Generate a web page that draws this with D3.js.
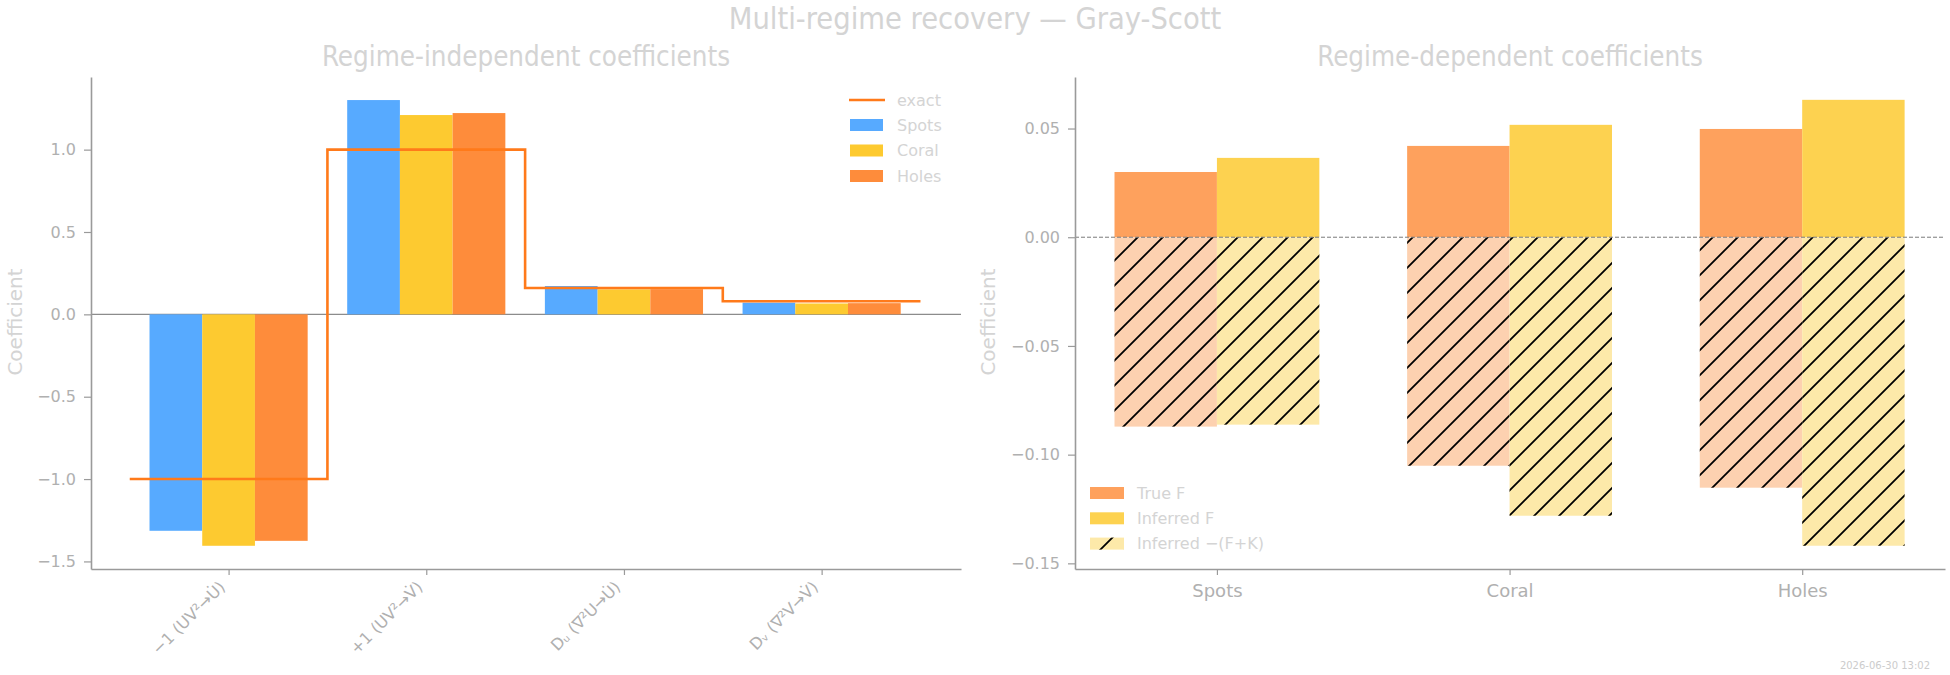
<!DOCTYPE html>
<html>
<head>
<meta charset="utf-8">
<script src="https://cdn.jsdelivr.net/npm/d3@7"></script>
<style>
  body { margin: 0; background: #fff; }
  text { font-family: "DejaVu Sans", sans-serif; }
  .cond { font-family: "DejaVu Sans Condensed", "DejaVu Sans", sans-serif; font-stretch: condensed; }
</style>
</head>
<body>
<svg id="chart" width="1950" height="675"></svg>
<script>
// coefficient terms (left panel)
var terms = ["\u22121 (UV\u00b2\u2192U\u0307)", "+1 (UV\u00b2\u2192V\u0307)", "D\u1d64 (\u2207\u00b2U\u2192U\u0307)", "D\u1d65 (\u2207\u00b2V\u2192V\u0307)"];
var exactCoef = [-1, 1, 0.16, 0.08];
var spotsCoef = [-1.314, 1.301, 0.172, 0.071];
var coralCoef = [-1.405, 1.210, 0.152, 0.066];
var holesCoef = [-1.375, 1.222, 0.153, 0.068];

// regime-dependent (right panel)
var regimes = ["Spots", "Coral", "Holes"];
var trueF = [0.0300, 0.0420, 0.0498];
var inferredF = [0.0365, 0.0517, 0.0632];
var trueFK = [-0.0871, -0.1051, -0.1152];
var inferredFK = [-0.0862, -0.1281, -0.1419];

var leftTicks = [-1.5, -1.0, -0.5, 0.0, 0.5, 1.0];
var rightTicks = [-0.15, -0.10, -0.05, 0.00, 0.05];

var svg = d3.select("#chart");
var spine = "#9a9a9a", tickTxt = "#b0b0b0", faint = "#d4d4d4";

// hatch pattern, in page coordinates
var defs = svg.append("defs");
defs.append("pattern")
    .attr("id", "hatch")
    .attr("patternUnits", "userSpaceOnUse")
    .attr("width", 25).attr("height", 25)
  .append("path")
    .attr("d", "M0,25 L25,0 M-3,3 L3,-3 M22,28 L28,22")
    .attr("stroke", "#000")
    .attr("stroke-width", 1.8);

function styleAxis(g) {
    g.select(".domain").attr("stroke", spine).attr("stroke-width", 1.6);
    g.selectAll(".tick line").attr("stroke", spine).attr("stroke-width", 1.2);
    g.selectAll(".tick text").attr("fill", tickTxt).attr("font-size", 16);
}

// ---------- left panel ----------
var xL = d3.scaleLinear().domain([-0.696, 3.705]).range([91, 961]);
var yL = d3.scaleLinear().domain([-1.546, 1.441]).range([569, 77]);

var series = [
    { name: "Spots", color: "#57aaff", vals: spotsCoef },
    { name: "Coral", color: "#fdca30", vals: coralCoef },
    { name: "Holes", color: "#fe8c3b", vals: holesCoef }
];
var bw = 0.8 / 3;

// zero line
svg.append("line")
    .attr("x1", xL.range()[0]).attr("x2", xL.range()[1])
    .attr("y1", yL(0)).attr("y2", yL(0))
    .attr("stroke", "#8c8c8c").attr("stroke-width", 1.2);

series.forEach(function (s, j) {
    svg.append("g").selectAll("rect")
        .data(s.vals)
        .enter().append("rect")
        .attr("x", function (d, i) { return xL(i - 0.4 + j * bw); })
        .attr("width", xL(bw) - xL(0))
        .attr("y", function (d) { return yL(Math.max(0, d)); })
        .attr("height", function (d) { return Math.abs(yL(d) - yL(0)); })
        .attr("fill", s.color);
});

// exact step line
var stepPts = exactCoef.map(function (v, i) { return [i - 0.5, v]; });
stepPts.push([exactCoef.length - 0.5, exactCoef[exactCoef.length - 1]]);
svg.append("path")
    .datum(stepPts)
    .attr("fill", "none")
    .attr("stroke", "#ff7a1a")
    .attr("stroke-width", 2.6)
    .attr("d", d3.line()
        .x(function (d) { return xL(d[0]); })
        .y(function (d) { return yL(d[1]); })
        .curve(d3.curveStepAfter));

var axL = svg.append("g").attr("transform", "translate(91,0)")
    .call(d3.axisLeft(yL).tickValues(leftTicks).tickFormat(d3.format(".1f")).tickSizeInner(7).tickSizeOuter(0).tickPadding(8));
styleAxis(axL);

var axLB = svg.append("g").attr("transform", "translate(0,569)")
    .call(d3.axisBottom(xL).tickValues([0, 1, 2, 3]).tickFormat(function (i) { return terms[i]; }).tickSizeInner(6).tickSizeOuter(0));
styleAxis(axLB);
axLB.selectAll(".tick text")
    .attr("x", 0).attr("y", 0).attr("dy", 0)
    .attr("text-anchor", "end")
    .attr("transform", "translate(-3,19) rotate(-45)");

svg.append("text")
    .attr("transform", "translate(22,322) rotate(-90)")
    .attr("text-anchor", "middle")
    .attr("font-size", 20)
    .attr("fill", faint)
    .text("Coefficient");

svg.append("text").attr("class", "cond")
    .attr("x", 526).attr("y", 66)
    .attr("text-anchor", "middle")
    .attr("font-size", 27.5)
    .attr("fill", faint)
    .text("Regime-independent coefficients");

// legend left
var legL = svg.append("g");
legL.append("line").attr("x1", 849).attr("x2", 885).attr("y1", 100).attr("y2", 100)
    .attr("stroke", "#ff7a1a").attr("stroke-width", 2.6);
legL.append("text").attr("x", 897).attr("y", 100).attr("dy", "0.35em")
    .attr("font-size", 16).attr("fill", faint).text("exact");
series.forEach(function (s, j) {
    var cy = 125 + j * 25.5;
    legL.append("rect").attr("x", 850).attr("y", cy - 6).attr("width", 33).attr("height", 12).attr("fill", s.color);
    legL.append("text").attr("x", 897).attr("y", cy).attr("dy", "0.35em")
        .attr("font-size", 16).attr("fill", faint).text(s.name);
});

// ---------- right panel ----------
var xR = d3.scaleLinear().domain([-0.485, 2.488]).range([1075, 1945]);
var yR = d3.scaleLinear().domain([-0.1526, 0.0737]).range([569, 77]);
var w2 = 0.35;

function bars(vals, offset, fill, hatched) {
    var g = svg.append("g");
    g.selectAll("rect")
        .data(vals)
        .enter().append("rect")
        .attr("x", function (d, i) { return xR(i + offset); })
        .attr("width", xR(w2) - xR(0))
        .attr("y", function (d) { return yR(Math.max(0, d)); })
        .attr("height", function (d) { return Math.abs(yR(d) - yR(0)); })
        .attr("fill", fill);
    if (hatched) {
        g.selectAll("rect.h")
            .data(vals)
            .enter().append("rect")
            .attr("class", "h")
            .attr("x", function (d, i) { return xR(i + offset); })
            .attr("width", xR(w2) - xR(0))
            .attr("y", function (d) { return yR(Math.max(0, d)); })
            .attr("height", function (d) { return Math.abs(yR(d) - yR(0)); })
            .attr("fill", "url(#hatch)");
    }
}

bars(trueF, -w2, "#fea15d", false);
bars(inferredF, 0, "#fdd250", false);
bars(trueFK, -w2, "#fdd1b0", true);
bars(inferredFK, 0, "#fde9a9", true);

svg.append("line")
    .attr("x1", xR.range()[0]).attr("x2", xR.range()[1])
    .attr("y1", yR(0)).attr("y2", yR(0))
    .attr("stroke", "#7a7a7a").attr("stroke-width", 1)
    .attr("stroke-dasharray", "4,2");

var axR = svg.append("g").attr("transform", "translate(1075,0)")
    .call(d3.axisLeft(yR).tickValues(rightTicks).tickFormat(d3.format(".2f")).tickSizeInner(7).tickSizeOuter(0).tickPadding(8));
styleAxis(axR);

var axRB = svg.append("g").attr("transform", "translate(0,569)")
    .call(d3.axisBottom(xR).tickValues([0, 1, 2]).tickFormat(function (i) { return regimes[i]; }).tickSizeInner(6).tickSizeOuter(0).tickPadding(9));
styleAxis(axRB);
axRB.selectAll(".tick text").attr("font-size", 18);

svg.append("text")
    .attr("transform", "translate(995,322) rotate(-90)")
    .attr("text-anchor", "middle")
    .attr("font-size", 20)
    .attr("fill", faint)
    .text("Coefficient");

svg.append("text").attr("class", "cond")
    .attr("x", 1510).attr("y", 66)
    .attr("text-anchor", "middle")
    .attr("font-size", 27.5)
    .attr("fill", faint)
    .text("Regime-dependent coefficients");

// legend right
var legR = [
    { label: "True F", fill: "#fea15d", hatch: false },
    { label: "Inferred F", fill: "#fdd250", hatch: false },
    { label: "Inferred \u2212(F+K)", fill: "#fde9a9", hatch: true }
];
legR.forEach(function (d, j) {
    var cy = 493 + j * 25.3;
    svg.append("rect").attr("x", 1090).attr("y", cy - 6).attr("width", 34).attr("height", 12).attr("fill", d.fill);
    if (d.hatch) {
        svg.append("rect").attr("x", 1090).attr("y", cy - 6).attr("width", 34).attr("height", 12).attr("fill", "url(#hatch)");
    }
    svg.append("text").attr("x", 1137).attr("y", cy).attr("dy", "0.35em")
        .attr("font-size", 16).attr("fill", faint).text(d.label);
});

// figure title + stamp
svg.append("text").attr("class", "cond")
    .attr("x", 975).attr("y", 29)
    .attr("text-anchor", "middle")
    .attr("font-size", 30.5)
    .attr("fill", faint)
    .text("Multi-regime recovery \u2014 Gray-Scott");

svg.append("text")
    .attr("x", 1930).attr("y", 669)
    .attr("text-anchor", "end")
    .attr("font-size", 10)
    .attr("fill", "#cccccc")
    .text("2026-06-30 13:02");
</script>
</body>
</html>
